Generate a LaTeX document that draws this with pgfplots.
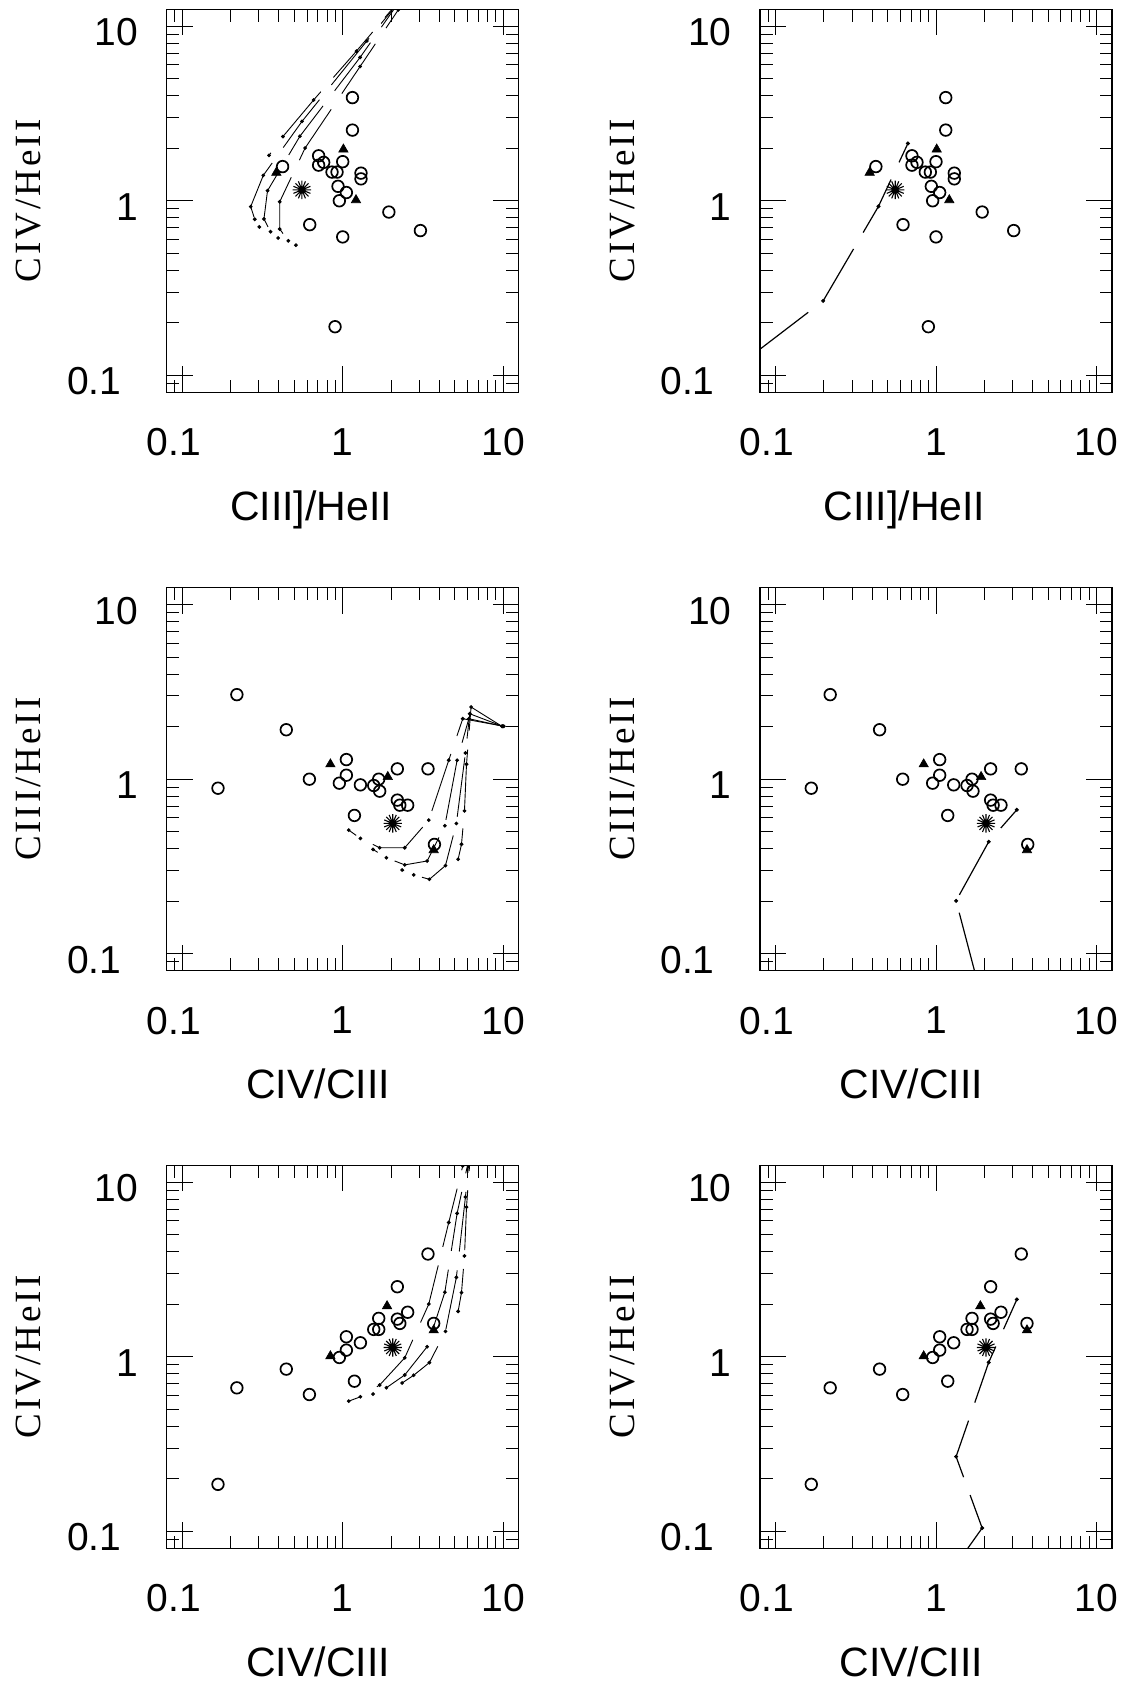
\documentclass[border=0pt]{standalone}
\usepackage{fontspec}
\setmainfont{Liberation Sans}
\newfontfamily\labserif[LetterSpace=8]{Liberation Serif}
\usepackage{pgfplots}
\usepackage{pgfplotstable}
\pgfplotsset{compat=1.18}

\pgfdeclareplotmark{burst}{%
  \foreach \a in {0,22.5,...,337.5}{%
    \pgfpathmoveto{\pgfpointorigin}%
    \pgfpathlineto{\pgfpointpolar{\a}{\pgfplotmarksize}}%
  }%
  \pgfusepathqstroke
}

% ---------- observed objects ----------
\pgfplotstableread{
x y
1.15 3.9
1.15 2.54
0.708 1.81
0.708 1.60
0.761 1.66
1.0 1.675
0.858 1.46
0.922 1.46
1.30 1.44
1.30 1.335
0.935 1.21
1.054 1.115
0.953 1.0
0.422 1.57
0.623 0.730
1.0 0.621
1.94 0.862
3.05 0.675
0.896 0.190
}\topcirc
\pgfplotstableread{
x y
1.01 1.97
1.21 1.01
0.386 1.45
}\toptri
\pgfplotstableread{
x y
0.219 3.05
0.445 1.92
1.054 1.295
2.19 1.146
3.40 1.146
0.620 1.0
1.054 1.054
0.953 0.949
1.289 0.928
1.677 1.0
1.561 0.920
1.70 0.854
2.19 0.759
2.27 0.710
2.54 0.710
1.183 0.620
0.167 0.888
3.73 0.423
}\midcirc
\pgfplotstableread{
x y
0.838 1.218
1.91 1.031
3.69 0.393
}\midtri
\pgfplotstableread{
x y
3.40 3.88
2.19 2.52
2.54 1.80
2.19 1.644
2.27 1.553
1.677 1.66
1.561 1.435
1.677 1.435
1.054 1.302
1.289 1.203
1.054 1.092
0.953 0.991
0.445 0.850
0.219 0.664
0.620 0.608
1.183 0.725
3.69 1.553
0.167 0.186
}\botcirc
\pgfplotstableread{
x y
1.89 1.953
0.838 1.009
3.69 1.42
}\bottri

\pgfplotsset{
  every axis/.append style={
    xmin=0.08, xmax=12.5, ymin=0.08, ymax=12.5,
    scale only axis, width=176pt, height=191.5pt,
    anchor=south west,
    xtick={0.1,1,10}, ytick={0.1,1,10},
    xticklabels={{\kern-8.6pt\relax 0.1},1,10},
    yticklabels={{0.1\kern8.5pt},1,10},
    minor xtick={0.09,0.2,0.3,0.4,0.5,0.6,0.7,0.8,0.9,2,3,4,5,6,7,8,9},
    minor ytick={0.09,0.2,0.3,0.4,0.5,0.6,0.7,0.8,0.9,2,3,4,5,6,7,8,9},
    tick align=inside,
    major tick length=13pt, minor tick length=6.25pt,
    axis line style={line width=0.65pt},
    xticklabel style={font=\fontsize{19.5}{22}\selectfont, inner sep=0pt, anchor=north, yshift=-18pt},
    yticklabel style={font=\fontsize{19.5}{22}\selectfont, inner sep=0pt, anchor=east, xshift=-14pt, yshift=-3pt},
    xlabel style={font=\fontsize{20.5}{24}\selectfont},
    ylabel style={font=\labserif\fontsize{18.5}{22}\selectfont},
    clip marker paths=true,
  },
  every tick/.style={black, line width=0.5pt},
  every axis x label/.style={at={(axis description cs:0.43,0)}, anchor=base, yshift=-64pt},
  every axis y label/.style={at={(axis description cs:0,0.5)}, xshift=-62.85pt, rotate=90, anchor=base},
}

\begin{document}
\begin{tikzpicture}
\useasboundingbox (0,0) rectangle (562.5pt,842.5pt);

% ================= TOP LEFT =================
\begin{loglogaxis}[at={(83.35pt,646.35pt)}, xlabel={CIII]/HeII}, ylabel={CIV/HeII},
  every axis x label/.append style={at={(axis description cs:0.41,0)}}]
\addplot[black, line width=0.45pt, dash pattern=on 30pt off 9.5pt, mark=*, mark size=0.7pt, mark options={solid, fill=black}] coordinates {(2.01,20.3) (2.22,12.4) (1.284,5.88) (0.583,2.005) (0.405,0.987) (0.405,0.689) (0.458,0.590) (0.511,0.557)};
\addplot[black, line width=0.45pt, dash pattern=on 30pt off 9.5pt, mark=*, mark size=0.7pt, mark options={solid, fill=black}] coordinates {(2.01,20.1) (2.22,13.56) (1.284,6.63) (0.541,2.342) (0.340,1.142) (0.323,0.787) (0.355,0.665) (0.396,0.612)};
\addplot[black, line width=0.45pt, dash pattern=on 30pt off 9.5pt, mark=*, mark size=0.7pt, mark options={solid, fill=black}] coordinates {(2.01,19.9) (2.37,14.67) (1.414,8.23) (0.558,2.851) (0.320,1.398) (0.267,0.926) (0.283,0.784) (0.302,0.708)};
\addplot[black, line width=0.45pt, dash pattern=on 30pt off 9.5pt, mark=*, mark size=0.7pt, mark options={solid, fill=black}] coordinates {(2.01,19.7) (2.59,16.3) (1.218,7.20) (0.659,3.78) (0.424,2.332) (0.3475,1.821)};
\addplot[only marks, mark=o, mark size=2.9pt, mark options={line width=0.85pt, black}] table {\topcirc};
\addplot[only marks, mark=triangle*, mark size=2.7pt, mark options={black, fill=black, line width=0.3pt}] table {\toptri};
\addplot[only marks, mark=burst, mark size=4.6pt, mark options={line width=0.55pt, black}] coordinates {(0.557,1.155)};
\end{loglogaxis}

% ================= TOP RIGHT =================
\begin{loglogaxis}[at={(380pt,646.35pt)}, xlabel={CIII]/HeII}, ylabel={CIV/HeII},
  every axis x label/.append style={at={(axis description cs:0.41,0)}}]
\addplot[black, line width=0.6pt, dash pattern=on 30pt off 9.5pt] coordinates {(0.0806,0.142) (0.198,0.267) (0.438,0.929) (0.668,2.13)};
\addplot[only marks, mark=*, mark size=0.8pt, mark options={black, fill=black}] coordinates {(0.198,0.267) (0.438,0.929) (0.668,2.13)};
\addplot[only marks, mark=o, mark size=2.9pt, mark options={line width=0.85pt, black}] table {\topcirc};
\addplot[only marks, mark=triangle*, mark size=2.7pt, mark options={black, fill=black, line width=0.3pt}] table {\toptri};
\addplot[only marks, mark=burst, mark size=4.6pt, mark options={line width=0.55pt, black}] coordinates {(0.557,1.155)};
\end{loglogaxis}

% ================= MIDDLE LEFT =================
\begin{loglogaxis}[at={(83.35pt,357.15pt)}, xlabel={CIV/CIII}, ylabel={CIII/HeII}]
\addplot[black, line width=0.45pt, dash pattern=on 30pt off 9.5pt, mark=*, mark size=0.7pt, mark options={solid, fill=black}] coordinates {(10.1,2.01) (5.60,2.22) (4.58,1.284) (3.44,0.583) (2.436,0.405) (1.70,0.405) (1.289,0.458) (1.09,0.511)};
\addplot[black, line width=0.45pt, dash pattern=on 30pt off 9.5pt, mark=*, mark size=0.7pt, mark options={solid, fill=black}] coordinates {(10.0,2.01) (6.11,2.22) (5.165,1.284) (4.33,0.541) (3.36,0.340) (2.436,0.323) (1.872,0.355) (1.546,0.396)};
\addplot[black, line width=0.45pt, dash pattern=on 30pt off 9.5pt, mark=*, mark size=0.7pt, mark options={solid, fill=black}] coordinates {(9.91,2.01) (6.19,2.37) (5.82,1.414) (5.11,0.558) (4.37,0.320) (3.47,0.267) (2.77,0.283) (2.345,0.302)};
\addplot[black, line width=0.45pt, dash pattern=on 30pt off 9.5pt, mark=*, mark size=0.7pt, mark options={solid, fill=black}] coordinates {(9.81,2.01) (6.31,2.59) (5.91,1.218) (5.74,0.659) (5.50,0.424) (5.24,0.3475)};
\addplot[only marks, mark=o, mark size=2.9pt, mark options={line width=0.85pt, black}] table {\midcirc};
\addplot[only marks, mark=triangle*, mark size=2.7pt, mark options={black, fill=black, line width=0.3pt}] table {\midtri};
\addplot[only marks, mark=burst, mark size=4.6pt, mark options={line width=0.55pt, black}] coordinates {(2.05,0.558)};
\end{loglogaxis}

% ================= MIDDLE RIGHT =================
\begin{loglogaxis}[at={(380pt,357.15pt)}, xlabel={CIV/CIII}, ylabel={CIII/HeII}]
\addplot[black, line width=0.6pt, dash pattern=on 30pt off 9.5pt] coordinates {(1.737,0.08) (1.334,0.201) (2.13,0.438) (3.19,0.668)};
\addplot[only marks, mark=*, mark size=0.8pt, mark options={black, fill=black}] coordinates {(1.334,0.201) (2.13,0.438) (3.19,0.668)};
\addplot[only marks, mark=o, mark size=2.9pt, mark options={line width=0.85pt, black}] table {\midcirc};
\addplot[only marks, mark=triangle*, mark size=2.7pt, mark options={black, fill=black, line width=0.3pt}] table {\midtri};
\addplot[only marks, mark=burst, mark size=4.6pt, mark options={line width=0.55pt, black}] coordinates {(2.05,0.558)};
\end{loglogaxis}

% ================= BOTTOM LEFT =================
\begin{loglogaxis}[at={(83.35pt,68.35pt)}, xlabel={CIV/CIII}, ylabel={CIV/HeII}]
\addplot[black, line width=0.45pt, dash pattern=on 30pt off 9.5pt, mark=*, mark size=0.7pt, mark options={solid, fill=black}] coordinates {(10.1,20.3) (5.60,12.4) (4.58,5.88) (3.44,2.005) (2.436,0.987) (1.70,0.689) (1.289,0.590) (1.09,0.557)};
\addplot[black, line width=0.45pt, dash pattern=on 30pt off 9.5pt, mark=*, mark size=0.7pt, mark options={solid, fill=black}] coordinates {(10.0,20.1) (6.11,13.56) (5.165,6.63) (4.33,2.342) (3.36,1.142) (2.436,0.787) (1.872,0.665) (1.546,0.612)};
\addplot[black, line width=0.45pt, dash pattern=on 30pt off 9.5pt, mark=*, mark size=0.7pt, mark options={solid, fill=black}] coordinates {(9.91,19.9) (6.19,14.67) (5.82,8.23) (5.11,2.851) (4.37,1.398) (3.47,0.926) (2.77,0.784) (2.345,0.708)};
\addplot[black, line width=0.45pt, dash pattern=on 30pt off 9.5pt, mark=*, mark size=0.7pt, mark options={solid, fill=black}] coordinates {(9.81,19.7) (6.31,16.3) (5.91,7.20) (5.74,3.78) (5.50,2.332) (5.24,1.821)};
\addplot[only marks, mark=o, mark size=2.9pt, mark options={line width=0.85pt, black}] table {\botcirc};
\addplot[only marks, mark=triangle*, mark size=2.7pt, mark options={black, fill=black, line width=0.3pt}] table {\bottri};
\addplot[only marks, mark=burst, mark size=4.6pt, mark options={line width=0.55pt, black}] coordinates {(2.05,1.131)};
\end{loglogaxis}

% ================= BOTTOM RIGHT =================
\begin{loglogaxis}[at={(380pt,68.35pt)}, xlabel={CIV/CIII}, ylabel={CIV/HeII}]
\addplot[black, line width=0.6pt, dash pattern=on 30pt off 9.5pt] coordinates {(1.577,0.08) (1.94,0.1045) (1.334,0.268) (2.13,0.929) (3.19,2.13)};
\addplot[only marks, mark=*, mark size=0.8pt, mark options={black, fill=black}] coordinates {(1.94,0.1045) (1.334,0.268) (2.13,0.929) (3.19,2.13)};
\addplot[only marks, mark=o, mark size=2.9pt, mark options={line width=0.85pt, black}] table {\botcirc};
\addplot[only marks, mark=triangle*, mark size=2.7pt, mark options={black, fill=black, line width=0.3pt}] table {\bottri};
\addplot[only marks, mark=burst, mark size=4.6pt, mark options={line width=0.55pt, black}] coordinates {(2.05,1.131)};
\end{loglogaxis}
\end{tikzpicture}
\end{document}
